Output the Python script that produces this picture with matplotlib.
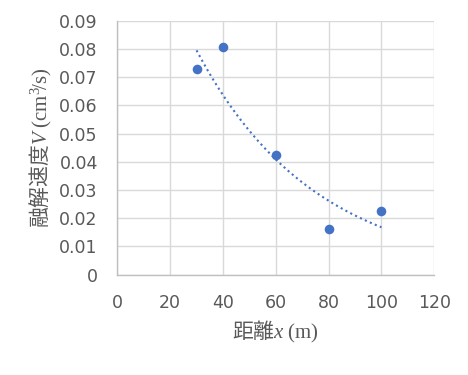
import numpy as np
import matplotlib
matplotlib.use("Agg")
import matplotlib.pyplot as plt

# data
distance = [30, 40, 60, 80, 100]
speed = [0.0728, 0.0808, 0.0425, 0.0161, 0.0226]
xticks = [0, 20, 40, 60, 80, 100, 120]
yticks = [0, 0.01, 0.02, 0.03, 0.04, 0.05, 0.06, 0.07, 0.08, 0.09]
xlabel = "距離$\\mathit{x}$ $\\mathrm{(m)}$"
ylabel = "融解速度$\\mathit{V}$ $\\mathrm{(cm^3\\!/s)}$"

plt.rcParams['font.family'] = ['Noto Sans CJK JP', 'DejaVu Sans']
plt.rcParams['mathtext.fontset'] = 'custom'
plt.rcParams['mathtext.rm'] = 'Liberation Serif'
plt.rcParams['mathtext.it'] = 'Liberation Serif:italic'

fig = plt.figure(figsize=(4.68, 3.75), dpi=100)
ax = fig.add_axes([0.2506, 0.2675, 0.6774, 0.6773])

blue = '#4472C4'
gray = '#595959'

# exponential trendline (least squares on log)
x = np.array(distance, dtype=float)
y = np.array(speed, dtype=float)
b, lna = np.polyfit(x, np.log(y), 1)
xt = np.linspace(x.min(), x.max(), 200)
ax.plot(xt, np.exp(lna) * np.exp(b * xt), linestyle=(0, (1, 1.6)), color=blue, lw=1.5, zorder=2)

ax.scatter(distance, speed, s=48, color=blue, zorder=3, linewidths=0)

ax.set_xlim(0, 120)
ax.set_ylim(0, 0.09)
ax.set_xticks(xticks)
ax.set_yticks(yticks)
ax.set_xticklabels([str(v) for v in xticks], family='DejaVu Sans')
ax.set_yticklabels(['0'] + ['%.2f' % v for v in yticks[1:]], family='DejaVu Sans')
ax.tick_params(axis='both', length=0, labelsize=12.5, labelcolor=gray)
ax.tick_params(axis='x', pad=14)
ax.tick_params(axis='y', pad=14)
ax.grid(True, color='#d9d9d9', lw=1)
ax.set_axisbelow(True)
for s in ['top', 'right']:
    ax.spines[s].set_visible(False)
for s in ['left', 'bottom']:
    ax.spines[s].set_color('#bfbfbf')
    ax.spines[s].set_linewidth(1)

ax.set_xlabel(xlabel, fontsize=15, color=gray, labelpad=5)
ax.set_ylabel(ylabel, fontsize=15, color=gray, labelpad=4)

fig.savefig('out.png', dpi=100)
